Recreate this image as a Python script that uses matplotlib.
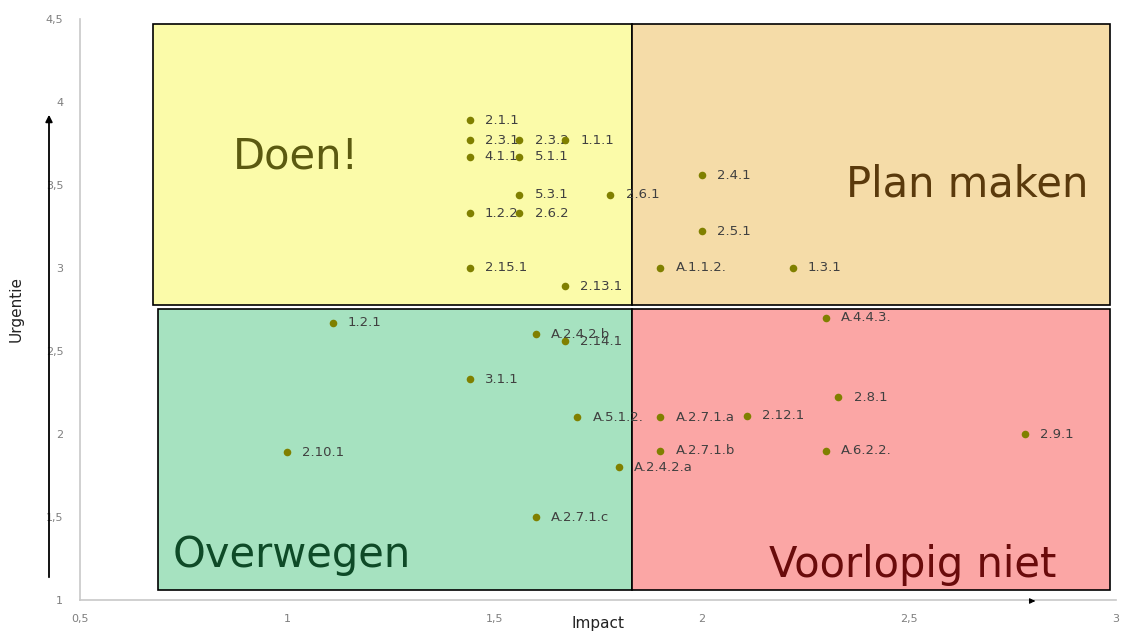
import matplotlib
matplotlib.use('Agg')
import matplotlib.pyplot as plt
from matplotlib.patches import Rectangle
from matplotlib.ticker import FuncFormatter

##point labels with (impact, urgentie)
labels = ['2.1.1', '2.3.1', '2.3.2', '1.1.1', '4.1.1', '5.1.1', '5.3.1', '2.6.1',
          '1.2.2', '2.6.2', '2.4.1', '2.5.1', '2.15.1', 'A.1.1.2.', '1.3.1', '2.13.1',
          '1.2.1', 'A.4.4.3.', 'A.2.4.2.b', '2.14.1', '3.1.1', '2.8.1', 'A.5.1.2.',
          'A.2.7.1.a', '2.12.1', '2.9.1', '2.10.1', 'A.2.7.1.b', 'A.6.2.2.',
          'A.2.4.2.a', 'A.2.7.1.c']
impact = [1.44, 1.44, 1.56, 1.67, 1.44, 1.56, 1.56, 1.78,
          1.44, 1.56, 2.0, 2.0, 1.44, 1.9, 2.22, 1.67,
          1.11, 2.3, 1.6, 1.67, 1.44, 2.33, 1.7,
          1.9, 2.11, 2.78, 1.0, 1.9, 2.3,
          1.8, 1.6]
urgentie = [3.89, 3.77, 3.77, 3.77, 3.67, 3.67, 3.44, 3.44,
            3.33, 3.33, 3.56, 3.22, 3.0, 3.0, 3.0, 2.89,
            2.67, 2.7, 2.6, 2.56, 2.33, 2.22, 2.1,
            2.1, 2.11, 2.0, 1.89, 1.9, 1.9,
            1.8, 1.5]

xticks = [0.5, 1, 1.5, 2, 2.5, 3]
yticks = [1, 1.5, 2, 2.5, 3, 3.5, 4, 4.5]

##quadrants: name, (x0, y0, width, height), face, text colour, text pos
quad_names = ['Doen!', 'Plan maken', 'Overwegen', 'Voorlopig niet']
quad_boxes = [(0.676, 2.777, 1.156, 1.693), (1.832, 2.777, 1.153, 1.693),
              (0.688, 1.06, 1.144, 1.693), (1.832, 1.06, 1.153, 1.693)]
quad_faces = ['#fbfba9', '#f5dca8', '#a6e2c0', '#fba6a5']
quad_text_col = ['#5b5a10', '#5a3a0c', '#0e4a27', '#6a0b0b']
quad_text_pos = [(1.02, 3.67), (2.64, 3.5), (1.01, 1.27), (2.51, 1.21)]

fig = plt.figure(figsize=(11.23, 6.32), dpi=100)
ax = fig.add_axes([0.0712, 0.0506, 0.9226, 0.9194])
ax.set_xlim(0.5, 3)
ax.set_ylim(1, 4.5)

for i in range(len(quad_names)):
    x0, y0, w, h = quad_boxes[i]
    ax.add_patch(Rectangle((x0, y0), w, h, facecolor=quad_faces[i],
                           edgecolor='black', lw=1.2, zorder=1))
    ax.text(quad_text_pos[i][0], quad_text_pos[i][1], quad_names[i],
            fontsize=30, color=quad_text_col[i], ha='center', va='center', zorder=2)

#points above labels
ax.scatter(impact, urgentie, s=30, color='#808000', zorder=4, linewidths=0)
for i in range(len(labels)):
    ax.annotate(labels[i], (impact[i], urgentie[i]), xytext=(11, 0),
                textcoords='offset points', va='center', ha='left',
                fontsize=9.5, color='#404040', zorder=3)

ax.set_xticks(xticks)
ax.set_yticks(yticks)
fmt = FuncFormatter(lambda v, p: ('%g' % v).replace('.', ','))
ax.xaxis.set_major_formatter(fmt)
ax.yaxis.set_major_formatter(fmt)
ax.tick_params(length=0, labelsize=8, colors='#7f7f7f', pad=10)
ax.tick_params(axis='y', pad=12)
for s in ['top', 'right']:
    ax.spines[s].set_visible(False)
for s in ['left', 'bottom']:
    ax.spines[s].set_color('#c8c8c8')
    ax.spines[s].set_linewidth(1.2)

ax.set_xlabel('Impact', fontsize=11, color='#222222', labelpad=-6)
ax.set_ylabel('Urgentie', fontsize=11, color='#222222', labelpad=16)

##arrows drawn in figure pixels
ax.annotate('', xy=(49 / 1123, 1 - 112 / 632), xytext=(49 / 1123, 1 - 580 / 632),
            xycoords='figure fraction', textcoords='figure fraction',
            arrowprops=dict(arrowstyle='-|>', color='black', lw=1.3, mutation_scale=10))
ax.annotate('', xy=(1038 / 1123, 1 - 601 / 632), xytext=(1030 / 1123, 1 - 601 / 632),
            xycoords='figure fraction', textcoords='figure fraction',
            arrowprops=dict(arrowstyle='-|>', color='black', lw=0.8, mutation_scale=8))

fig.savefig('out.png', dpi=100)
